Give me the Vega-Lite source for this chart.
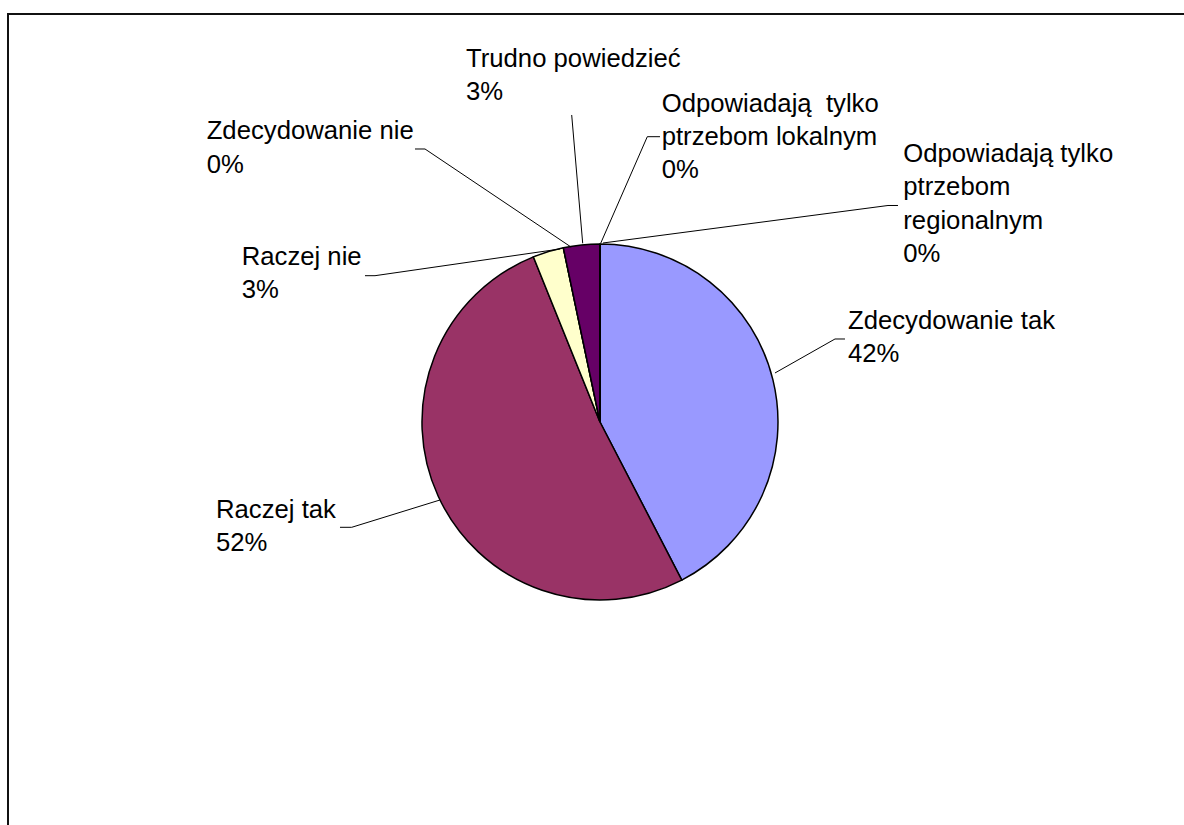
{
  "$schema": "https://vega.github.io/schema/vega-lite/v6.json",
  "width": 1190,
  "height": 820,
  "autosize": {"type": "none"},
  "padding": {"left": 8, "top": 14, "right": 0, "bottom": 0},
  "background": "white",
  "config": {"view": {"stroke": "#111", "strokeWidth": 2}},
  "datasets": {
    "slices": [
      {"category": "Zdecydowanie tak", "value": 42.4, "order": 1},
      {"category": "Raczej tak", "value": 51.5, "order": 2},
      {"category": "Raczej nie", "value": 2.8, "order": 3},
      {"category": "Zdecydowanie nie", "value": 0, "order": 4},
      {"category": "Trudno powiedzieć", "value": 3.3, "order": 5},
      {"category": "Odpowiadają tylko ptrzebom lokalnym", "value": 0, "order": 6},
      {"category": "Odpowiadają tylko ptrzebom regionalnym", "value": 0, "order": 7}
    ],
    "labels": [
      {"category": "Zdecydowanie tak", "text": "Zdecydowanie tak\n42%", "lx": 139.33, "ly": 52.25},
      {"category": "Raczej tak", "text": "Raczej tak\n52%", "lx": -215.73, "ly": -53.93},
      {"category": "Raczej nie", "text": "Raczej nie\n3%", "lx": -201.29, "ly": 88.2},
      {"category": "Zdecydowanie nie", "text": "Zdecydowanie nie\n0%", "lx": -220.96, "ly": 158.82},
      {"category": "Trudno powiedzieć", "text": "Trudno powiedzieć\n3%", "lx": -75.28, "ly": 199.61},
      {"category": "Odpowiadają tylko ptrzebom lokalnym", "text": "Odpowiadają\u00a0\u00a0tylko\nptrzebom lokalnym\n0%", "lx": 34.66, "ly": 174.33},
      {"category": "Odpowiadają tylko ptrzebom regionalnym", "text": "Odpowiadają tylko\nptrzebom\nregionalnym\n0%", "lx": 170.39, "ly": 146.07}
    ],
    "leaders": [
      {"category": "Zdecydowanie tak", "pt": 1, "u": 98.31, "v": 27.53},
      {"category": "Zdecydowanie tak", "pt": 2, "u": 132.02, "v": 46.63},
      {"category": "Zdecydowanie tak", "pt": 3, "u": 137.64, "v": 46.63},
      {"category": "Raczej tak", "pt": 1, "u": -89.89, "v": -43.82},
      {"category": "Raczej tak", "pt": 2, "u": -139.49, "v": -59.16},
      {"category": "Raczej tak", "pt": 3, "u": -146.07, "v": -59.16},
      {"category": "Raczej nie", "pt": 1, "u": -22.47, "v": 97.19},
      {"category": "Raczej nie", "pt": 2, "u": -126.4, "v": 82.19},
      {"category": "Raczej nie", "pt": 3, "u": -132.02, "v": 82.19},
      {"category": "Zdecydowanie nie", "pt": 1, "u": -16.29, "v": 98.31},
      {"category": "Zdecydowanie nie", "pt": 2, "u": -98.31, "v": 153.37},
      {"category": "Zdecydowanie nie", "pt": 3, "u": -103.93, "v": 153.37},
      {"category": "Trudno powiedzieć", "pt": 1, "u": -9.72, "v": 100.39},
      {"category": "Trudno powiedzieć", "pt": 2, "u": -15.9, "v": 172.47},
      {"category": "Odpowiadają tylko ptrzebom lokalnym", "pt": 1, "u": 0.39, "v": 100.39},
      {"category": "Odpowiadają tylko ptrzebom lokalnym", "pt": 2, "u": 26.57, "v": 160.28},
      {"category": "Odpowiadają tylko ptrzebom lokalnym", "pt": 3, "u": 33.71, "v": 160.28},
      {"category": "Odpowiadają tylko ptrzebom regionalnym", "pt": 1, "u": 1.69, "v": 100.56},
      {"category": "Odpowiadają tylko ptrzebom regionalnym", "pt": 2, "u": 161.8, "v": 121.63},
      {"category": "Odpowiadają tylko ptrzebom regionalnym", "pt": 3, "u": 167.42, "v": 121.63}
    ]
  },
  "layer": [
    {
      "data": {"name": "slices"},
      "mark": {"type": "arc", "outerRadius": 178, "stroke": "#000", "strokeWidth": 1.5},
      "encoding": {
        "x": {"datum": 0, "type": "quantitative", "scale": {"domain": [-332.58, 335.96], "nice": false, "zero": false}, "axis": null},
        "y": {"datum": 0, "type": "quantitative", "scale": {"domain": [-231.46, 229.21], "nice": false, "zero": false}, "axis": null},
        "theta": {"field": "value", "type": "quantitative", "stack": true},
        "order": {"field": "order", "type": "quantitative"},
        "color": {
          "field": "category", "type": "nominal", "legend": null,
          "scale": {
            "domain": ["Zdecydowanie tak", "Raczej tak", "Raczej nie", "Zdecydowanie nie", "Trudno powiedzieć", "Odpowiadają tylko ptrzebom lokalnym", "Odpowiadają tylko ptrzebom regionalnym"],
            "range": ["#9999FF", "#993366", "#FFFFCC", "#CCFFFF", "#660066", "#FF8080", "#0066CC"]
          }
        }
      }
    },
    {
      "data": {"name": "leaders"},
      "mark": {"type": "line", "color": "#000", "strokeWidth": 1},
      "encoding": {
        "x": {"field": "u", "type": "quantitative"},
        "y": {"field": "v", "type": "quantitative"},
        "detail": {"field": "category"},
        "order": {"field": "pt", "type": "quantitative"}
      }
    },
    {
      "data": {"name": "labels"},
      "mark": {"type": "text", "align": "left", "baseline": "alphabetic", "font": "Liberation Sans", "fontSize": 25.7, "lineHeight": 33.3, "lineBreak": "\n", "color": "#000"},
      "encoding": {
        "x": {"field": "lx", "type": "quantitative"},
        "y": {"field": "ly", "type": "quantitative"},
        "text": {"field": "text"}
      }
    }
  ]
}
